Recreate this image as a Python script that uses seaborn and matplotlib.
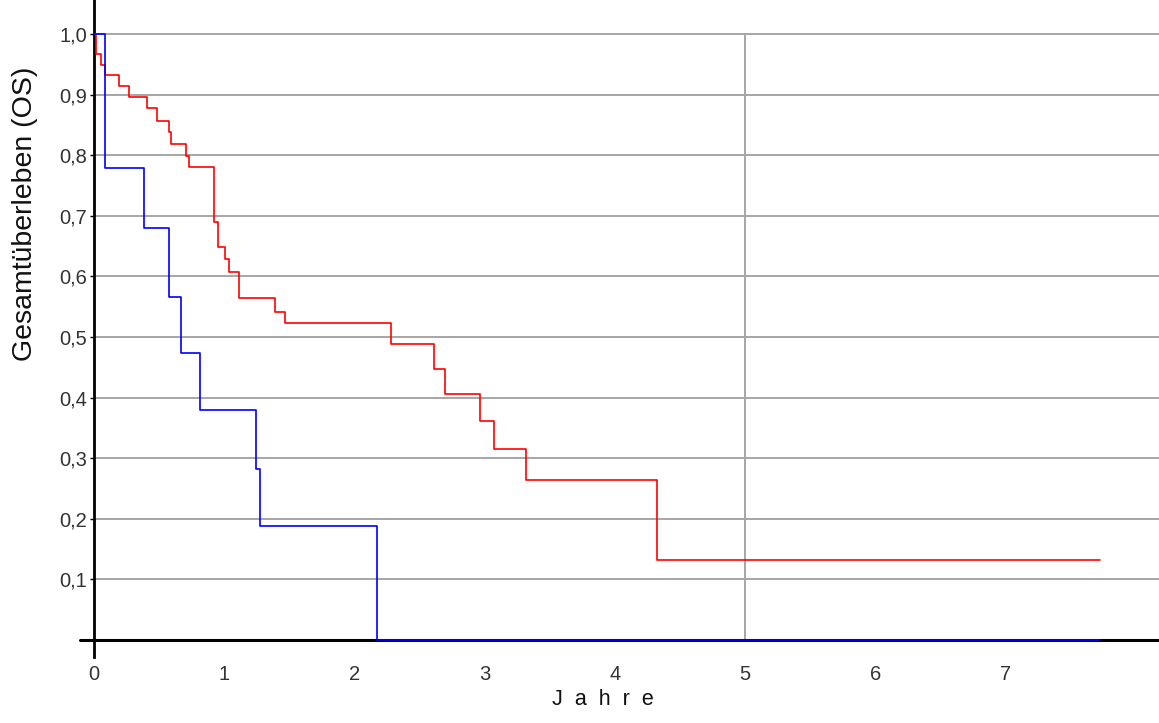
import matplotlib
matplotlib.use("Agg")
import matplotlib.pyplot as plt
import seaborn as sns
import pandas as pd

# Kaplan-Meier style step data
red_time = [0, 0.019, 0.051, 0.082, 0.194, 0.271, 0.405, 0.486, 0.574, 0.591,
            0.707, 0.732, 0.924, 0.955, 1.004, 1.037, 1.116, 1.390, 1.469,
            2.281, 2.611, 2.694, 2.965, 3.074, 3.316, 4.322, 7.73]
red_surv = [1.0, 0.967, 0.948, 0.933, 0.914, 0.896, 0.877, 0.857, 0.838, 0.819,
            0.799, 0.780, 0.689, 0.648, 0.629, 0.607, 0.564, 0.542, 0.523,
            0.488, 0.447, 0.406, 0.361, 0.316, 0.264, 0.1325, 0.1325]

blue_time = [0, 0.082, 0.382, 0.574, 0.671, 0.812, 1.247, 1.275, 2.171, 7.73]
blue_surv = [1.0, 0.778, 0.680, 0.566, 0.474, 0.379, 0.283, 0.188, 0.0, 0.0]

y_ticks = [0.1, 0.2, 0.3, 0.4, 0.5, 0.6, 0.7, 0.8, 0.9, 1.0]
y_labels = ["0,1", "0,2", "0,3", "0,4", "0,5", "0,6", "0,7", "0,8", "0,9", "1,0"]
x_ticks = [0, 1, 2, 3, 4, 5, 6, 7]
x_labels = ["0", "1", "2", "3", "4", "5", "6", "7"]

df = pd.concat([
    pd.DataFrame({"t": red_time, "s": red_surv, "grp": "A"}),
    pd.DataFrame({"t": blue_time, "s": blue_surv, "grp": "B"}),
], ignore_index=True)

sns.set_style("white")
plt.rcParams["font.family"] = ["Liberation Sans", "DejaVu Sans"]

W, H = 1159, 723
fig = plt.figure(figsize=(W / 100, H / 100), dpi=100)
ax_left, ax_bottom_px, ax_top_px = 94, 657, 0
ax = fig.add_axes([ax_left / W, (H - ax_bottom_px) / H,
                   (W - ax_left) / W, (ax_bottom_px - ax_top_px) / H])

ax.set_xlim(0, 8.18)
ax.set_ylim(-0.028, 1.056)

# grid
ax.set_yticks(y_ticks)
ax.set_yticklabels(y_labels)
ax.set_xticks(x_ticks)
ax.set_xticklabels(x_labels)
ax.yaxis.grid(True, color="#a6a6a6", linewidth=1.4, zorder=0)
ax.xaxis.grid(False)
ax.vlines(5, 0, 1.0, color="#a6a6a6", linewidth=1.4, zorder=0)

# axis lines
for s in ["top", "right", "bottom"]:
    ax.spines[s].set_visible(False)
ax.spines["left"].set_color("black")
ax.spines["left"].set_linewidth(2.0)
ax.axhline(0, xmin=-14 / (W - ax_left), xmax=1, color="black", linewidth=2.2,
           clip_on=False, zorder=2)

sns.lineplot(data=df, x="t", y="s", hue="grp", palette={"A": "#ff0000", "B": "#0000ff"},
             drawstyle="steps-post", estimator=None, sort=False, linewidth=1.2,
             legend=False, ax=ax, zorder=3)

ax.tick_params(axis="y", length=3, width=1, color="black", pad=2, labelsize=14.5,
               left=True, labelcolor="#333333")
ax.tick_params(axis="x", length=0, pad=6, labelsize=14.5, labelcolor="#333333")

ax.set_xlabel("J  a  h  r  e", fontsize=15.5, va="baseline", ha="center", color="#111111")
ax.xaxis.set_label_coords((603 - ax_left) / (W - ax_left), (ax_bottom_px - 705) / ax_bottom_px)
ax.set_ylabel("Gesamtüberleben (OS)", fontsize=20.5, va="center", ha="center", color="#111111")
ax.yaxis.set_label_coords((25 - ax_left) / (W - ax_left), (ax_bottom_px - 214) / ax_bottom_px)

fig.savefig("out.png", dpi=100)
